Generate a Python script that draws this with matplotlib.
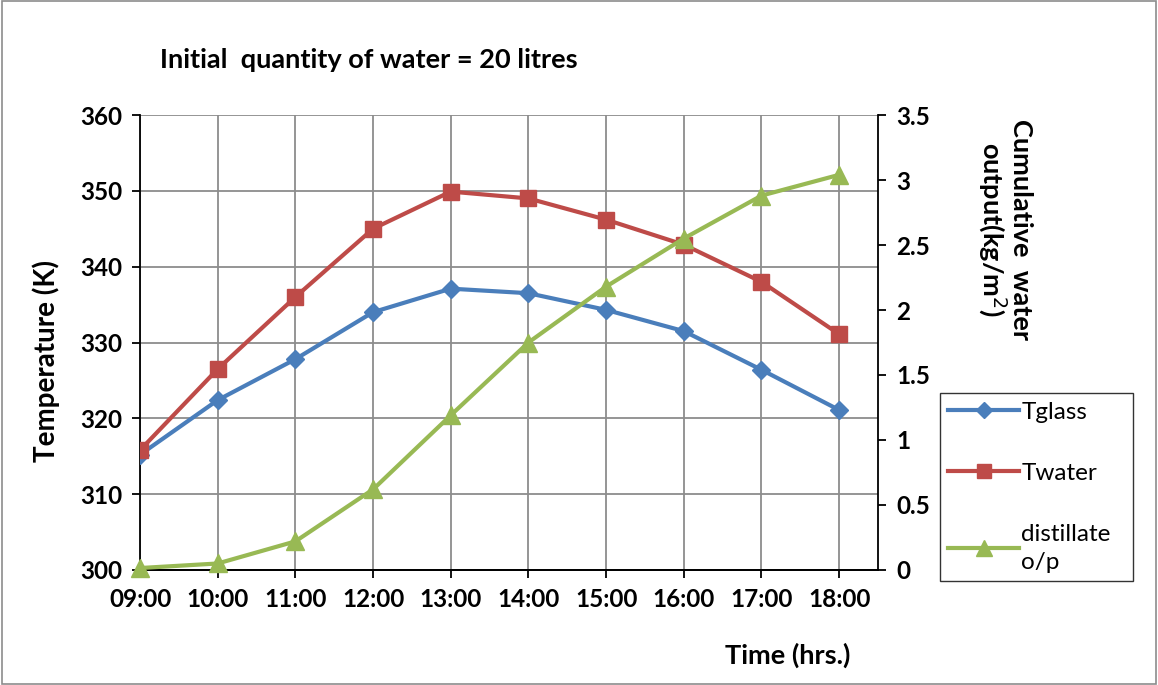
import matplotlib.pyplot as plt
from matplotlib.patches import Rectangle

plt.rcParams['font.family'] = ['Lato', 'DejaVu Sans']

hours = ['09:00', '10:00', '11:00', '12:00', '13:00', '14:00', '15:00', '16:00', '17:00', '18:00']
t_glass = [315.2, 322.4, 327.8, 334.0, 337.1, 336.5, 334.3, 331.5, 326.4, 321.1]
t_water = [315.8, 326.5, 336.0, 345.0, 349.9, 349.0, 346.2, 342.9, 338.0, 331.1]
distillate = [0.015, 0.05, 0.22, 0.62, 1.19, 1.75, 2.18, 2.55, 2.88, 3.04]

fig = plt.figure(figsize=(11.58, 6.85), dpi=100)
fig.patches.append(Rectangle((0.002, 0.002), 0.996, 0.996, transform=fig.transFigure,
                             fill=False, edgecolor='#8c8c8c', lw=1.2))

ax = fig.add_axes([0.1209, 0.1679, 0.6373, 0.6642])
ax2 = ax.twinx()

x = list(range(len(hours)))
l1, = ax.plot(x, t_glass, color='#4a7ebb', lw=3, marker='D', ms=9, zorder=3, label='Tglass')
l2, = ax.plot(x, t_water, color='#be4b48', lw=3, marker='s', ms=12, zorder=3, label='Twater')
l3, = ax2.plot(x, distillate, color='#98b954', lw=3, marker='^', ms=13, zorder=3,
               label='distillate\no/p', clip_on=False)

ax.set_xlim(0, 9.5)
ax.set_ylim(300, 360)
ax2.set_ylim(0, 3.5)
ax.set_xticks(x)
ax.set_xticklabels(hours)
ax.set_yticks(range(300, 361, 10))
ax2.set_yticks([0, 0.5, 1, 1.5, 2, 2.5, 3, 3.5])
ax2.set_yticklabels(['0', '0.5', '1', '1.5', '2', '2.5', '3', '3.5'])

ax.grid(True, color='#8c8c8c', lw=1.3)
ax.set_axisbelow(True)
for a in (ax, ax2):
    a.spines['top'].set_visible(False)
    for s in ('left', 'right', 'bottom'):
        a.spines[s].set_linewidth(1.3)
ax2.spines['left'].set_visible(False)
ax.spines['right'].set_visible(False)

ax.tick_params(axis='both', direction='out', length=6, width=1.3, labelsize=17.5, pad=7)
ax2.tick_params(axis='y', direction='out', length=6, width=1.3, labelsize=17.5, pad=7)
for lab in ax.get_xticklabels() + ax.get_yticklabels() + ax2.get_yticklabels():
    lab.set_fontweight('bold')

fig.text(0.040, 0.473, 'Temperature (K)', fontsize=20, fontweight='bold', rotation=90,
         ha='center', va='center')
fig.text(0.680, 0.044, 'Time (hrs.)', fontsize=19.5, fontweight='bold', ha='center', va='center')
fig.text(0.138, 0.912, 'Initial  quantity of water = 20 litres', fontsize=19.5,
         fontweight='bold', ha='left', va='center')
fig.text(0.868, 0.665, 'Cumulative  water\noutput(kg/m$^2$)', fontsize=19.5, fontweight='bold',
         rotation=-90, ha='center', va='center', linespacing=1.0)

leg = fig.legend(handles=[l1, l2, l3], loc='upper left', bbox_to_anchor=(0.8117, 0.4263, 0.1667, 0.0),
                 frameon=True, fancybox=False, edgecolor='black', fontsize=17.5,
                 handlelength=2.9, labelspacing=1.65, borderpad=0.35, handletextpad=0.1,
                 mode='expand', markerscale=0.85, borderaxespad=0)
leg.get_frame().set_linewidth(1.0)
for t in leg.get_texts():
    t.set_linespacing(1.4)

fig.savefig('out.png', dpi=100)
